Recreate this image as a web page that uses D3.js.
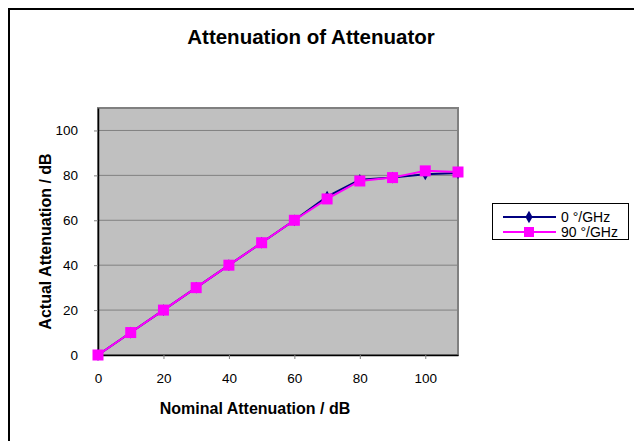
<!DOCTYPE html>
<html>
<head>
<meta charset="utf-8">
<script src="https://cdn.jsdelivr.net/npm/d3@7"></script>
<style>
  body { margin: 0; background: #fff; }
  svg { display: block; font-family: "Liberation Sans", Arial, sans-serif; }
</style>
</head>
<body>
<div id="chart"></div>
<script>
var nominal = [0, 10, 20, 30, 40, 50, 60, 70, 80, 90, 100, 110];
var series0 = [0, 10, 20, 30, 40, 50, 60, 70.5, 78, 79, 80.5, 81];
var series90 = [0, 10, 20, 30, 40, 50, 60, 69.5, 77.5, 79, 82, 81.5];
var seriesNames = ["0 °/GHz", "90 °/GHz"];
var xTicks = [0, 20, 40, 60, 80, 100];
var yTicks = [0, 20, 40, 60, 80, 100];

var width = 634, height = 441;
var margin = {top: 108, left: 98, right: 176, bottom: 86};

var svg = d3.select("#chart").append("svg")
    .attr("width", width)
    .attr("height", height);

// outer frame
svg.append("rect")
    .attr("x", 9).attr("y", 9)
    .attr("width", 700).attr("height", 500)
    .attr("fill", "none")
    .attr("stroke", "#000")
    .attr("stroke-width", 2);

var x = d3.scaleLinear().domain([0, 110]).range([margin.left, width - margin.right]);
var y = d3.scaleLinear().domain([0, 110]).range([height - margin.bottom, margin.top]);

// plot area
svg.append("rect")
    .attr("x", x(0)).attr("y", y(110))
    .attr("width", x(110) - x(0)).attr("height", y(0) - y(110))
    .attr("fill", "#c0c0c0")
    .attr("stroke", "#808080")
    .attr("stroke-width", 2);

// gridlines
svg.append("g").selectAll("line")
    .data(yTicks.filter(function(d) { return d > 0; }))
    .join("line")
    .attr("x1", x(0)).attr("x2", x(110))
    .attr("y1", function(d) { return y(d); })
    .attr("y2", function(d) { return y(d); })
    .attr("stroke", "#808080")
    .attr("stroke-width", 1);

// axes
var xAxis = svg.append("g")
    .attr("transform", "translate(0," + y(0) + ")")
    .call(d3.axisBottom(x).tickValues(xTicks).tickSize(4).tickPadding(14).tickSizeOuter(0));
var yAxis = svg.append("g")
    .attr("transform", "translate(" + x(0) + ",0)")
    .call(d3.axisLeft(y).tickValues(yTicks).tickSize(4).tickPadding(16).tickSizeOuter(0));

[xAxis, yAxis].forEach(function(g) {
  g.select(".domain").attr("stroke", "#000").attr("stroke-width", 1.5);
  g.selectAll(".tick line").attr("stroke", "#808080");
  g.selectAll(".tick text")
    .attr("fill", "#000")
    .style("font-family", "'Liberation Sans', Arial, sans-serif")
    .style("font-size", "13.5px");
});

// title and axis titles
svg.append("text")
    .attr("x", 311).attr("y", 44)
    .attr("text-anchor", "middle")
    .style("font-size", "20.5px").style("font-weight", "bold")
    .text("Attenuation of Attenuator");

svg.append("text")
    .attr("x", 255).attr("y", 414)
    .attr("text-anchor", "middle")
    .style("font-size", "16px").style("font-weight", "bold")
    .text("Nominal Attenuation / dB");

svg.append("text")
    .attr("transform", "translate(51," + ((y(0) + y(110)) / 2 + 10) + ") rotate(-90)")
    .attr("text-anchor", "middle")
    .style("font-size", "16px").style("font-weight", "bold")
    .text("Actual Attenuation / dB");

var line = d3.line()
    .x(function(d, i) { return x(nominal[i]); })
    .y(function(d) { return y(d); });

// series 0 °/GHz
svg.append("path")
    .datum(series0)
    .attr("fill", "none")
    .attr("stroke", "#000080")
    .attr("stroke-width", 2)
    .attr("d", line);
svg.append("g").selectAll("path")
    .data(series0)
    .join("path")
    .attr("d", d3.symbol(d3.symbolDiamond, 40))
    .attr("transform", function(d, i) { return "translate(" + x(nominal[i]) + "," + y(d) + ")"; })
    .attr("fill", "#000080");

// series 90 °/GHz
svg.append("path")
    .datum(series90)
    .attr("fill", "none")
    .attr("stroke", "#ff00ff")
    .attr("stroke-width", 2)
    .attr("d", line);
svg.append("g").selectAll("rect")
    .data(series90)
    .join("rect")
    .attr("x", function(d, i) { return x(nominal[i]) - 5.5; })
    .attr("y", function(d) { return y(d) - 5.5; })
    .attr("width", 11).attr("height", 11)
    .attr("fill", "#ff00ff");

// legend
var legend = svg.append("g");
legend.append("rect")
    .attr("x", 492.5).attr("y", 203.5)
    .attr("width", 136).attr("height", 36)
    .attr("fill", "#fff")
    .attr("stroke", "#000")
    .attr("stroke-width", 1);

var legendColors = ["#000080", "#ff00ff"];
seriesNames.forEach(function(name, i) {
  var ly = 217 + i * 15;
  legend.append("line")
      .attr("x1", 503).attr("x2", 556)
      .attr("y1", ly).attr("y2", ly)
      .attr("stroke", legendColors[i])
      .attr("stroke-width", 2);
  if (i === 0) {
    legend.append("path")
        .attr("d", d3.symbol(d3.symbolDiamond, 45))
        .attr("transform", "translate(529," + ly + ")")
        .attr("fill", legendColors[i]);
  } else {
    legend.append("rect")
        .attr("x", 524).attr("y", ly - 5)
        .attr("width", 10).attr("height", 10)
        .attr("fill", legendColors[i]);
  }
  legend.append("text")
      .attr("x", 561).attr("y", ly + 5)
      .style("font-size", "14px")
      .text(name);
});
</script>
</body>
</html>
